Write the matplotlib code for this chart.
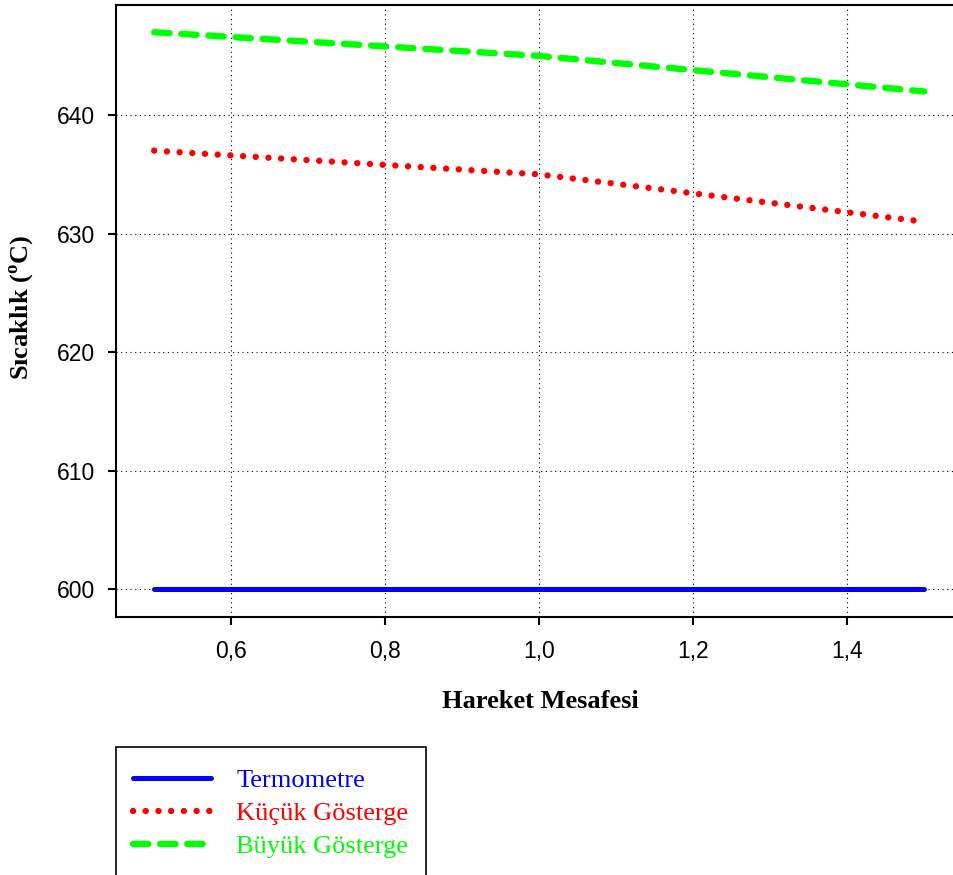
import matplotlib
matplotlib.use('Agg')
import matplotlib.pyplot as plt
from matplotlib.patches import Rectangle

# measured positions (m) and readings (degrees C)
mesafe = [0.5, 1.0, 1.5]
termometre = [600, 600, 600]
kucuk_gosterge = [637, 635, 631]
buyuk_gosterge = [647, 645, 642]

x_ticks = [0.6, 0.8, 1.0, 1.2, 1.4]
x_tick_labels = ['0,6', '0,8', '1,0', '1,2', '1,4']
y_ticks = [600, 610, 620, 630, 640]

W, H = 954, 875
plt.rcParams['mathtext.fontset'] = 'custom'
plt.rcParams['mathtext.rm'] = 'Liberation Serif'
plt.rcParams['mathtext.bf'] = 'Liberation Serif:bold'

fig = plt.figure(figsize=(W / 100, H / 100), dpi=100)
ax = fig.add_axes([115.7 / W, 1 - 616.7 / H, (W - 115.7) / W, (616.7 - 4.5) / H])

l1, = ax.plot(mesafe, termometre, color='#0000ff', lw=3.6,
              solid_capstyle='round')
l2, = ax.plot(mesafe, kucuk_gosterge, color='#ff0000', lw=4.6,
              linestyle=(0, (0.01, 1.98)), dash_capstyle='round')
l3, = ax.plot(mesafe, buyuk_gosterge, color='#00ff00', lw=4.6,
              linestyle=(0, (2.4, 1.85)), dash_capstyle='round')

ax.set_xlim(0.45, 0.45 + (W - 115.7) / 770)
ax.set_ylim(597.66, 649.34)
ax.set_xticks(x_ticks)
ax.set_xticklabels(x_tick_labels)
ax.set_yticks(y_ticks)

ax.grid(True, color='black', lw=0.8, linestyle=(0, (1, 3.2)))
ax.set_axisbelow(True)
ax.spines['right'].set_visible(False)
for s in ['left', 'bottom', 'top']:
    ax.spines[s].set_linewidth(1.5)
ax.tick_params(direction='out', length=6, width=1.5, labelsize=16.5)
ax.tick_params(axis='y', pad=9)
ax.tick_params(axis='x', pad=10.5)
for lab in ax.get_xticklabels() + ax.get_yticklabels():
    lab.set_fontfamily('Liberation Sans')

fig.text(540 / W, 1 - 702 / H, 'Hareket Mesafesi', ha='center', va='center',
         family='Liberation Serif', weight='bold', size=19)
fig.text(22 / W, 1 - 307 / H, r'Sıcaklık ($^{\mathbf{o}}$C)', rotation=90,
         ha='center', va='center', family='Liberation Serif', weight='bold',
         size=19)

# legend below the plot, its frame runs past the bottom edge
leg = ax.legend([l1, l2, l3], ['Termometre', 'Küçük Gösterge', 'Büyük Gösterge'],
                loc='upper left', bbox_to_anchor=(133.2 / W, 1 - 769 / H),
                bbox_transform=fig.transFigure, frameon=False,
                prop={'family': 'Liberation Serif', 'size': 19},
                labelcolor='linecolor', handlelength=2.95, handletextpad=0.95,
                labelspacing=0.35, borderaxespad=0, borderpad=0)
fig.patches.append(Rectangle((115.7 / W, -0.05), 310.3 / W, 0.05 + 1 - 746.7 / H,
                             transform=fig.transFigure, fill=False,
                             edgecolor='black', lw=1.2))

fig.savefig('out.png', dpi=100)
